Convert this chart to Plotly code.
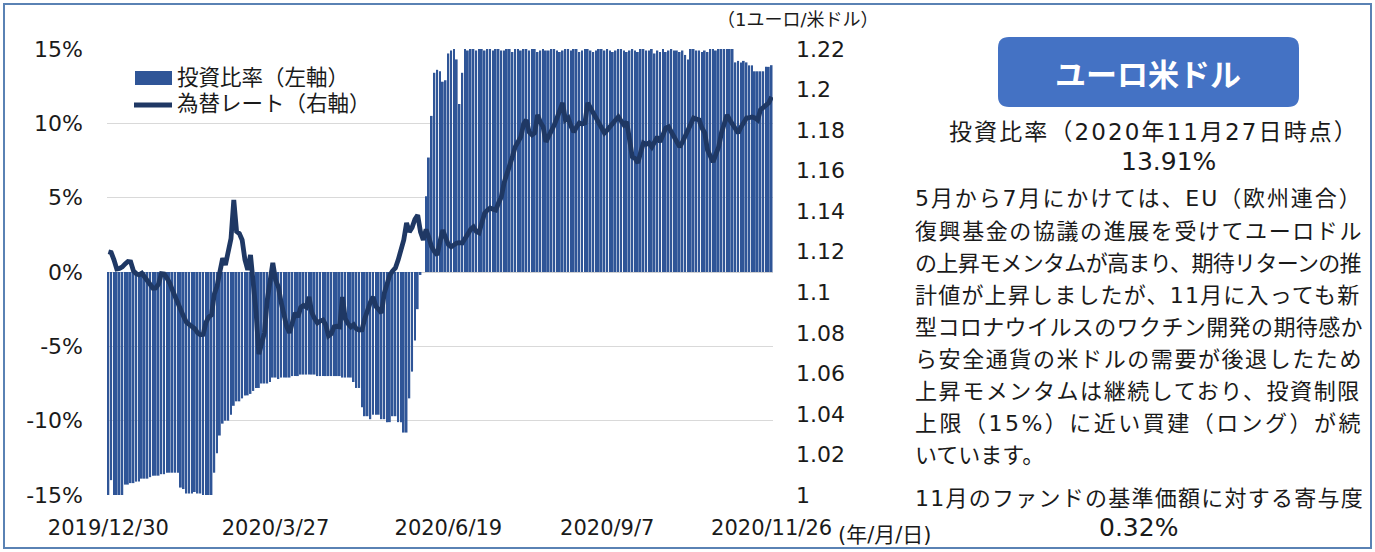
import plotly.graph_objects as go

W, H = 1375, 552

# ---------------- data ----------------
# investment ratio (%), one value per business day 2019/12/30 .. 2020/11/26
ratio = [
    -15.0, -14.0, -15.0, -15.0, -15.0, -15.0, -14.3, -14.3, -14.2, -14.2,
    -14.1, -14.1, -13.9, -13.9, -13.9, -13.8, -13.7, -13.7, -13.7, -13.6,
    -13.6, -13.5, -13.5, -13.5, -13.5, -13.5, -14.5, -14.6, -14.9, -14.9,
    -14.9, -14.8, -14.9, -14.9, -15.0, -15.0, -15.2, -15.2, -13.5, -12.2,
    -11.0, -10.2, -10.0, -10.0, -9.6, -9.0, -8.7, -8.7, -8.5, -8.3,
    -8.3, -8.2, -8.0, -7.8, -7.8, -7.5, -7.5, -7.5, -7.4, -7.1,
    -7.1, -7.2, -7.1, -7.1, -7.1, -7.1, -7.0, -7.0, -7.0, -6.9,
    -6.9, -6.9, -6.9, -6.9, -6.9, -7.0, -7.0, -7.0, -7.0, -7.0,
    -7.0, -7.0, -7.0, -7.0, -7.1, -7.1, -7.1, -7.1, -7.4, -7.8,
    -7.8, -9.1, -9.7, -9.7, -9.9, -9.6, -9.6, -9.6, -9.9, -9.9,
    -10.1, -10.1, -9.7, -9.7, -10.1, -10.1, -10.8, -10.8, -8.5, -6.7,
    -4.6, -2.5, -0.2, 0.0, 5.1, 7.7, 10.5, 13.4, 13.6, 13.5,
    12.8, 12.9, 14.7, 14.9, 15.0, 14.3, 11.3, 13.4, 15.0, 14.9,
    15.0, 15.0, 14.9, 15.0, 15.0, 14.9, 15.0, 15.0, 14.9, 15.0,
    15.0, 14.9, 14.9, 15.0, 15.0, 14.8, 15.0, 15.0, 14.9, 15.0,
    15.0, 14.9, 15.0, 15.0, 14.8, 14.9, 15.0, 14.9, 14.9, 15.0,
    15.0, 14.9, 14.8, 14.9, 15.0, 15.0, 14.9, 15.0, 15.0, 14.8,
    14.9, 15.0, 15.0, 14.9, 14.8, 14.9, 15.0, 15.0, 14.9, 15.0,
    14.9, 14.8, 14.9, 15.0, 15.0, 14.9, 14.8, 14.9, 15.0, 14.9,
    14.8, 15.0, 15.0, 14.9, 14.9, 15.0, 14.7, 14.9, 14.8, 15.0,
    14.8, 14.9, 15.0, 14.9, 14.9, 14.8, 14.9, 14.6, 14.3, 15.0,
    15.0, 14.9, 14.9, 14.8, 14.9, 14.8, 15.0, 15.0, 14.9, 15.0,
    15.0, 15.0, 15.0, 15.0, 15.0, 14.1, 14.2, 14.1, 14.2, 14.1,
    13.9, 13.9, 13.5, 13.5, 13.5, 13.5, 13.8, 13.8, 13.91,
]

# EUR/USD rate, same days
fx_rate = [
    1.1200, 1.1196, 1.1160, 1.1115, 1.1118, 1.1125, 1.1140, 1.1152, 1.1150, 1.1105,
    1.1092, 1.1086, 1.1094, 1.1075, 1.1048, 1.1030, 1.1020, 1.1021, 1.1040, 1.1092,
    1.1090, 1.1070, 1.1046, 1.1010, 1.0975, 1.0945, 1.0920, 1.0880, 1.0852, 1.0840,
    1.0830, 1.0820, 1.0800, 1.0790, 1.0792, 1.0850, 1.0878, 1.0888, 1.0990, 1.1030,
    1.1100, 1.1168, 1.1135, 1.1215, 1.1265, 1.1455, 1.1300, 1.1290, 1.1258, 1.1160,
    1.1110, 1.1184, 1.1050, 1.0900, 1.0695, 1.0740, 1.0800, 1.0960, 1.1060, 1.1145,
    1.1060, 1.1026, 1.0950, 1.0880, 1.0830, 1.0800, 1.0860, 1.0898, 1.0878, 1.0925,
    1.0935, 1.0927, 1.0977, 1.0900, 1.0870, 1.0849, 1.0858, 1.0863, 1.0839, 1.0785,
    1.0795, 1.0829, 1.0832, 1.0829, 1.0977, 1.0870, 1.0845, 1.0829, 1.0840, 1.0820,
    1.0814, 1.0815, 1.0870, 1.0913, 1.0950, 1.0977, 1.0930, 1.0915, 1.0898, 1.0995,
    1.1040, 1.1085, 1.1105, 1.1120, 1.1160, 1.1200, 1.1258, 1.1342, 1.1298, 1.1320,
    1.1360, 1.1381, 1.1298, 1.1258, 1.1310, 1.1270, 1.1224, 1.1200, 1.1184, 1.1250,
    1.1307, 1.1270, 1.1235, 1.1224, 1.1235, 1.1243, 1.1245, 1.1243, 1.1265, 1.1290,
    1.1310, 1.1322, 1.1300, 1.1293, 1.1340, 1.1390, 1.1405, 1.1416, 1.1410, 1.1406,
    1.1440, 1.1470, 1.1540, 1.1580, 1.1618, 1.1670, 1.1717, 1.1740, 1.1766, 1.1830,
    1.1850, 1.1790, 1.1776, 1.1786, 1.1875, 1.1840, 1.1816, 1.1742, 1.1770, 1.1786,
    1.1825, 1.1860, 1.1900, 1.1934, 1.1850, 1.1860, 1.1820, 1.1790, 1.1815, 1.1835,
    1.1830, 1.1835, 1.1934, 1.1910, 1.1890, 1.1860, 1.1835, 1.1810, 1.1786, 1.1800,
    1.1820, 1.1835, 1.1850, 1.1865, 1.1840, 1.1825, 1.1840, 1.1740, 1.1668, 1.1660,
    1.1638, 1.1690, 1.1737, 1.1730, 1.1737, 1.1717, 1.1745, 1.1766, 1.1742, 1.1780,
    1.1810, 1.1816, 1.1790, 1.1766, 1.1740, 1.1717, 1.1740, 1.1770, 1.1790, 1.1830,
    1.1860, 1.1855, 1.1850, 1.1810, 1.1786, 1.1702, 1.1670, 1.1643, 1.1680, 1.1717,
    1.1786, 1.1830, 1.1875, 1.1850, 1.1825, 1.1800, 1.1786, 1.1815, 1.1835, 1.1860,
    1.1862, 1.1865, 1.1860, 1.1850, 1.1900, 1.1910, 1.1924, 1.1935, 1.1964,
]

x_labels = ["2019/12/30", "2020/3/27", "2020/6/19", "2020/9/7", "2020/11/26"]
x_label_idx = [0, 60, 122, 179, 238]

left_ticks = [-15, -10, -5, 0, 5, 10, 15]
left_ticktext = ["-15%", "-10%", "-5%", "0%", "5%", "10%", "15%"]
right_ticks = [1.0, 1.02, 1.04, 1.06, 1.08, 1.10, 1.12, 1.14, 1.16, 1.18, 1.20, 1.22]
right_ticktext = ["1", "1.02", "1.04", "1.06", "1.08", "1.1", "1.12", "1.14", "1.16", "1.18", "1.2", "1.22"]

series_names = ["投資比率（左軸）", "為替レート（右軸）"]
title_text = "ユーロ米ドル"
ratio_head = "投資比率（2020年11月27日時点）"
ratio_now = "13.91%"
body_lines = [
    "5月から7月にかけては、EU（欧州連合）",
    "復興基金の協議の進展を受けてユーロドル",
    "の上昇モメンタムが高まり、期待リターンの推",
    "計値が上昇しましたが、11月に入っても新",
    "型コロナウイルスのワクチン開発の期待感か",
    "ら安全通貨の米ドルの需要が後退したため",
    "上昇モメンタムは継続しており、投資制限",
    "上限（15%）に近い買建（ロング）が続",
    "いています。",
]
contrib_head = "11月のファンドの基準価額に対する寄与度"
contrib_val = "0.32%"

# ---------------- styling ----------------
FONT = "DejaVu Sans, Noto Sans CJK JP, sans-serif"
JFONT = "Noto Sans CJK JP, sans-serif"
BAR_C = "#2F5597"
LINE_C = "#1F3864"
TXT = "#1A1A1A"
HALF_W = {"E": 0.632, "U": 0.732, "%": 0.95, ".": 0.318, "/": 0.337, "(": 0.39, ")": 0.39}


def px(x):
    return x / W


def py(y):
    return 1 - y / H


def est_width(s, size):
    w = 0.0
    for ch in s:
        if ord(ch) >= 0x2E80:
            w += 1.0
        elif ch.isdigit():
            w += 0.636
        else:
            w += HALF_W.get(ch, 0.6)
    return w * size


def fitted(s, size, target):
    ls = (target - est_width(s, size)) / len(s)
    return f'<span style="letter-spacing:{ls:.2f}px">{s}</span>'


xs = list(range(len(ratio)))

fig = go.Figure()
fig.add_trace(go.Bar(x=xs, y=ratio, marker=dict(color=BAR_C, line=dict(width=0)),
                     name=series_names[0], yaxis="y"))
fig.add_trace(go.Scatter(x=xs, y=fx_rate, mode="lines", line=dict(color=LINE_C, width=4.8),
                         name=series_names[1], yaxis="y2"))

TICKF = dict(size=22, family=FONT, color=TXT)
fig.update_layout(
    width=W, height=H,
    margin=dict(l=0, r=0, t=0, b=0, autoexpand=False),
    paper_bgcolor="white", plot_bgcolor="white",
    showlegend=False, bargap=0.35,
    font=dict(family=FONT, color=TXT),
    xaxis=dict(domain=[px(107), px(773)], range=[-0.5, len(ratio) - 0.5],
               automargin=False,
               tickmode="array", tickvals=x_label_idx, ticktext=x_labels,
               showgrid=False, zeroline=False, showline=False, ticks="",
               tickfont=dict(size=21, family=FONT, color=TXT), ticklabelstandoff=18),
    yaxis=dict(domain=[py(495), py(49)], range=[-15, 15], automargin=False,
               tickmode="array", tickvals=left_ticks, ticktext=left_ticktext,
               showgrid=True, gridcolor="#D9D9D9", gridwidth=1,
               zeroline=True, zerolinecolor="#D0D0D0", zerolinewidth=1,
               showline=False, ticks="", tickfont=TICKF, ticklabelstandoff=23),
    yaxis2=dict(overlaying="y", side="right", anchor="x", range=[1.0, 1.22],
                automargin=False,
                tickmode="array", tickvals=right_ticks, ticktext=right_ticktext,
                showgrid=False, zeroline=False, showline=False, ticks="",
                tickfont=TICKF, ticklabelstandoff=22),
)

shapes = []
# outer frame
shapes.append(dict(type="rect", xref="paper", yref="paper",
                   x0=px(4), x1=px(1371), y0=py(548), y1=py(4),
                   line=dict(color="#5A82B4", width=2), fillcolor="rgba(0,0,0,0)"))
# custom legend
shapes.append(dict(type="rect", xref="paper", yref="paper",
                   x0=px(135), x1=px(172), y0=py(85), y1=py(71),
                   line=dict(width=0), fillcolor=BAR_C))
shapes.append(dict(type="line", xref="paper", yref="paper",
                   x0=px(134), x1=px(172), y0=py(105), y1=py(105),
                   line=dict(color=LINE_C, width=4.8)))

# rounded title box
bx0, bx1, by0, by1, r = 998, 1299, 37, 107, 11
path = (f"M {px(bx0 + r)},{py(by0)} L {px(bx1 - r)},{py(by0)} "
        f"Q {px(bx1)},{py(by0)} {px(bx1)},{py(by0 + r)} "
        f"L {px(bx1)},{py(by1 - r)} Q {px(bx1)},{py(by1)} {px(bx1 - r)},{py(by1)} "
        f"L {px(bx0 + r)},{py(by1)} Q {px(bx0)},{py(by1)} {px(bx0)},{py(by1 - r)} "
        f"L {px(bx0)},{py(by0 + r)} Q {px(bx0)},{py(by0)} {px(bx0 + r)},{py(by0)} Z")
shapes.append(dict(type="path", xref="paper", yref="paper", path=path,
                   fillcolor="#4472C4", line=dict(width=0)))

fig.update_layout(shapes=shapes)

ann = []


def add_text(text, x, y, size, xanchor="left", color=TXT, family=FONT, bold=False):
    t = f"<b>{text}</b>" if bold else text
    ann.append(dict(text=t, xref="paper", yref="paper", x=px(x), y=py(y),
                    xanchor=xanchor, yanchor="middle", showarrow=False,
                    font=dict(size=size, color=color, family=family)))


add_text(series_names[0], 175, 77, 21.5)
add_text(series_names[1], 175, 104, 21.5)
add_text("（1ユーロ/米ドル）", 798, 19, 18, xanchor="center")
add_text("(年/月/日)", 836, 535, 21)
add_text(title_text, 1148, 72, 31, xanchor="center", color="white", family=JFONT, bold=True)
add_text(fitted(ratio_head, 23, 410), 947, 132, 23)
add_text(ratio_now, 1168, 161, 25, xanchor="center")
BODY = 22
for k, line in enumerate(body_lines):
    txt = fitted(line, BODY, 448) if k < len(body_lines) - 1 else line
    add_text(txt, 913, 199 + k * 32.1, BODY)
add_text(fitted(contrib_head, BODY, 449), 913, 498, BODY)
add_text(contrib_val, 1138, 527, 25, xanchor="center")

fig.update_layout(annotations=ann)

fig.write_html("out.html", config={"displayModeBar": False},
               post_script="document.body.style.margin='0px';")
